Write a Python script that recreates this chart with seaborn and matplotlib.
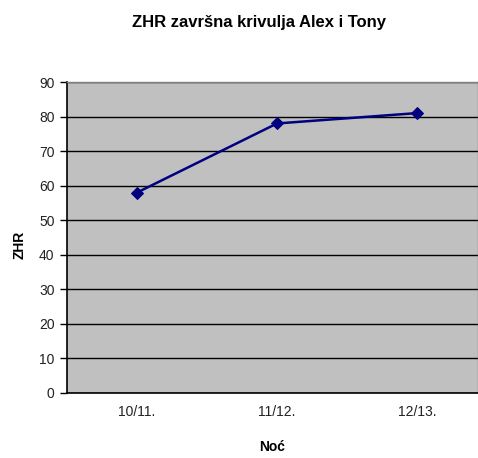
import matplotlib
matplotlib.use("Agg")
import matplotlib.pyplot as plt
import seaborn as sns
import pandas as pd
from matplotlib.ticker import FixedLocator

nights = ["10/11.", "11/12.", "12/13."]
zhr = [58, 78, 81]
y_ticks = [0, 10, 20, 30, 40, 50, 60, 70, 80, 90]

df = pd.DataFrame({"Noć": nights, "ZHR": zhr})

sns.set_style("white")
plt.rcParams['font.family'] = ['Liberation Sans', 'DejaVu Sans']
plt.rcParams['text.color'] = 'black'
plt.rcParams['axes.labelcolor'] = 'black'

fig = plt.figure(figsize=(4.78, 4.58), dpi=100)
ax = fig.add_axes([67/478, 65/458, 1 - 67/478, 311/458])
ax.set_facecolor("#c0c0c0")

sns.lineplot(data=df, x="Noć", y="ZHR", ax=ax, sort=False, color="#000080",
             marker="D", markersize=6.5, linewidth=1.8, markeredgecolor="#000080")

ax.set_ylim(0, 90)
ax.set_xlim(-0.5, (478 - 67) / 140 - 0.5)
ax.set_yticks(y_ticks)
ax.yaxis.grid(True, color="black", linewidth=1)
ax.set_axisbelow(True)
ax.set_xticks(range(len(nights)))
ax.set_xticklabels(nights)
ax.xaxis.set_minor_locator(FixedLocator([-0.5, 0.5, 1.5, 2.5]))
ax.tick_params(axis="x", which="major", length=0, pad=9, labelsize=10, labelcolor="#222222")
ax.tick_params(axis="x", which="minor", length=4, width=1, color="black", direction="out")
ax.tick_params(axis="y", length=5, width=1, color="black", direction="out", labelsize=10,
               labelcolor="#222222", pad=4, left=True)

for s in ["left", "bottom"]:
    ax.spines[s].set_color("black")
    ax.spines[s].set_linewidth(1.2)
for s in ["top", "right"]:
    ax.spines[s].set_color("#808080")
    ax.spines[s].set_linewidth(1)

ax.set_xlabel("Noć", fontsize=10, fontweight="bold", labelpad=15)
ax.set_ylabel("ZHR", fontsize=10, fontweight="bold")
ax.yaxis.set_label_coords(-0.098, 0.476)

fig.text(259/478, 1 - 22/458, "ZHR završna krivulja Alex i Tony", ha="center", va="center",
         fontsize=12, fontweight="bold", color="black")

fig.savefig("out.png", dpi=100, facecolor="white")
